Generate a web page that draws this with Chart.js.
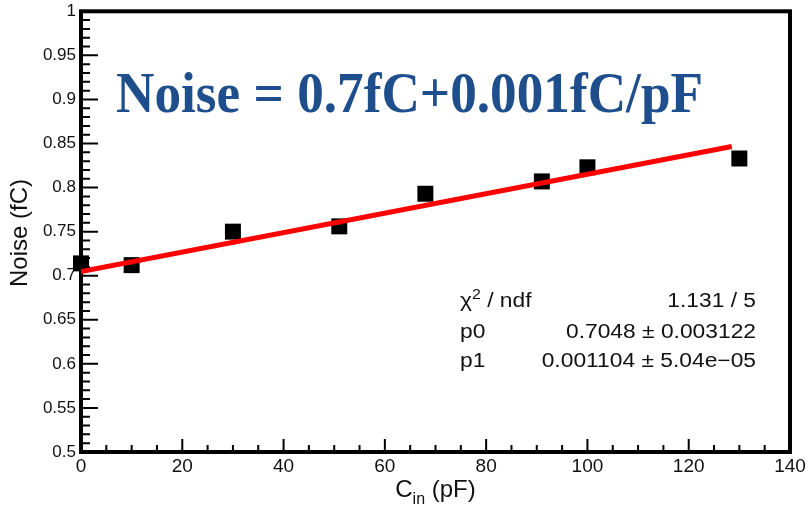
<!DOCTYPE html>
<html lang="en">
  <head>
    <meta charset="UTF-8">
    <title>Noise vs Cin</title>
    <style>
      html, body { margin: 0; padding: 0; background: #fff; }
      canvas { display: block; }
    </style>
  </head>
  <body>
    <canvas id="noiseChart" width="808" height="513"></canvas>

    <script src="https://cdn.jsdelivr.net/npm/chart.js"></script>
    <script>
      // measured points
      const cinValues = [0, 10, 30, 51, 68, 91, 100, 130];
      const noiseValues = [0.714, 0.712, 0.750, 0.756, 0.793, 0.807, 0.823, 0.833];

      // linear fit result (pol1)
      const fitP0 = 0.7048;
      const fitP1 = 0.001104;
      const fitRange = [0, 128.5];

      const xTickValues = [0, 20, 40, 60, 80, 100, 120, 140];
      const yTickValues = [0.5, 0.55, 0.6, 0.65, 0.7, 0.75, 0.8, 0.85, 0.9, 0.95, 1];
      const xMinorDiv = 4;
      const yMinorDiv = 5;

      const statsRows = [
        ["χ2 / ndf", "1.131 / 5"],
        ["p0", "0.7048 ± 0.003122"],
        ["p1", "0.001104 ± 5.04e\u221205"],
      ];
      const headline = "Noise = 0.7fC+0.001fC/pF";

      const SANS = "'Liberation Sans', Arial, sans-serif";
      const SERIF = "'Liberation Serif', 'Times New Roman', serif";

      const fitPoints = fitRange.map(x => ({ x: x, y: fitP0 + fitP1 * x }));
      const dataPoints = cinValues.map((x, i) => ({ x: x, y: noiseValues[i] }));

      // draws text squeezed/stretched horizontally by sx
      function wideText(ctx, text, x, y, sx, align) {
        ctx.save();
        ctx.translate(x, y);
        ctx.scale(sx, 1);
        ctx.textAlign = align;
        ctx.fillText(text, 0, 0);
        ctx.restore();
      }

      // frame + inward ticks, drawn under the markers
      const frameTicks = {
        id: "frameTicks",
        beforeDatasetsDraw(chart) {
          const { ctx, chartArea: a, scales } = chart;
          const xs = scales.x, ys = scales.y;
          ctx.save();
          ctx.strokeStyle = "#000";
          ctx.lineWidth = 2;
          ctx.beginPath();
          for (let i = 0; i < yTickValues.length; i++) {
            const v = yTickValues[i];
            const py = ys.getPixelForValue(v);
            ctx.moveTo(a.left, py);
            ctx.lineTo(a.left + 17, py);
            if (i < yTickValues.length - 1) {
              const step = (yTickValues[i + 1] - v) / yMinorDiv;
              for (let k = 1; k < yMinorDiv; k++) {
                const my = ys.getPixelForValue(v + k * step);
                ctx.moveTo(a.left, my);
                ctx.lineTo(a.left + 9, my);
              }
            }
          }
          for (let i = 0; i < xTickValues.length; i++) {
            const v = xTickValues[i];
            const px = xs.getPixelForValue(v);
            ctx.moveTo(px, a.bottom);
            ctx.lineTo(px, a.bottom - 13);
            if (i < xTickValues.length - 1) {
              const step = (xTickValues[i + 1] - v) / xMinorDiv;
              for (let k = 1; k < xMinorDiv; k++) {
                const mx = xs.getPixelForValue(v + k * step);
                ctx.moveTo(mx, a.bottom);
                ctx.lineTo(mx, a.bottom - 7);
              }
            }
          }
          ctx.stroke();
          ctx.lineWidth = 4;
          ctx.strokeRect(a.left, a.top, a.right - a.left, a.bottom - a.top);
          ctx.restore();
        },
        afterDraw(chart) {
          const { ctx, chartArea: a } = chart;
          ctx.save();
          ctx.fillStyle = "#111";

          // y axis title
          ctx.save();
          ctx.translate(20, 233);
          ctx.rotate(-Math.PI / 2);
          ctx.font = "24px " + SANS;
          ctx.textAlign = "center";
          ctx.textBaseline = "middle";
          ctx.fillText("Noise (fC)", 0, 0);
          ctx.restore();

          // x axis title with subscript
          ctx.textBaseline = "alphabetic";
          ctx.textAlign = "left";
          const big = "24px " + SANS, small = "16px " + SANS;
          ctx.font = big;
          const wC = ctx.measureText("C").width;
          const wUnit = ctx.measureText(" (pF)").width;
          ctx.font = small;
          const wSub = ctx.measureText("in").width;
          let tx = (a.left + a.right) / 2 - (wC + wSub + wUnit) / 2;
          const ty = 497;
          ctx.font = big;
          ctx.fillText("C", tx, ty);
          ctx.font = small;
          ctx.fillText("in", tx + wC, ty + 7);
          ctx.font = big;
          ctx.fillText(" (pF)", tx + wC + wSub, ty);

          // fit statistics
          const rowY = [307, 338, 367];
          const sx = 1.14;
          const statFont = "20px " + SANS;
          ctx.font = statFont;
          statsRows.forEach((row, i) => {
            if (row[0].startsWith("χ2")) {
              const wChi = ctx.measureText("χ").width * sx;
              wideText(ctx, "χ", 460, rowY[i], sx, "left");
              ctx.font = "14px " + SANS;
              const w2 = ctx.measureText("2").width * sx;
              wideText(ctx, "2", 460 + wChi, rowY[i] - 8, sx, "left");
              ctx.font = statFont;
              wideText(ctx, " / ndf", 460 + wChi + w2, rowY[i], sx, "left");
            } else {
              wideText(ctx, row[0], 460, rowY[i], sx, "left");
            }
            wideText(ctx, row[1], 756, rowY[i], sx, "right");
          });

          // fit formula headline
          ctx.fillStyle = "rgb(31, 78, 140)";
          ctx.font = "bold 57px " + SERIF;
          const hw = ctx.measureText(headline).width;
          wideText(ctx, headline, 116, 112, 587 / hw, "left");
          ctx.restore();
        }
      };

      const ctx = document.getElementById("noiseChart").getContext("2d");
      new Chart(ctx, {
        type: "scatter",
        data: {
          datasets: [
            {
              label: "fit",
              data: fitPoints,
              showLine: true,
              borderColor: "rgb(255, 0, 0)",
              borderWidth: 5,
              pointRadius: 0,
              order: 0,
            },
            {
              label: "noise",
              data: dataPoints,
              pointStyle: "rect",
              pointRadius: 11.3,
              pointBorderWidth: 0,
              backgroundColor: "#000",
              borderColor: "#000",
              clip: false,
              order: 1,
            },
          ],
        },
        options: {
          responsive: false,
          animation: false,
          layout: { padding: { left: 0, top: 10, right: 18, bottom: 0 } },
          plugins: {
            legend: { display: false },
            tooltip: { enabled: false },
          },
          scales: {
            x: {
              type: "linear",
              min: 0,
              max: 140,
              grid: { display: false, drawTicks: false },
              border: { display: false },
              afterBuildTicks: s => { s.ticks = xTickValues.map(v => ({ value: v })); },
              afterFit: s => { s.height = 61; s.paddingLeft = 0; s.paddingRight = 0; },
              ticks: {
                padding: 3,
                color: "#111",
                font: { family: SANS, size: 19 },
                maxRotation: 0,
                callback: v => String(v),
              },
            },
            y: {
              type: "linear",
              min: 0.5,
              max: 1,
              grid: { display: false, drawTicks: false },
              border: { display: false },
              afterBuildTicks: s => { s.ticks = yTickValues.map(v => ({ value: v })); },
              afterFit: s => { s.width = 81; s.paddingTop = 0; s.paddingBottom = 0; },
              ticks: {
                padding: 5,
                color: "#111",
                font: { family: SANS, size: 17 },
                callback: v => String(parseFloat(v.toFixed(2))),
              },
            },
          },
        },
        plugins: [frameTicks],
      });
    </script>
  </body>
</html>
